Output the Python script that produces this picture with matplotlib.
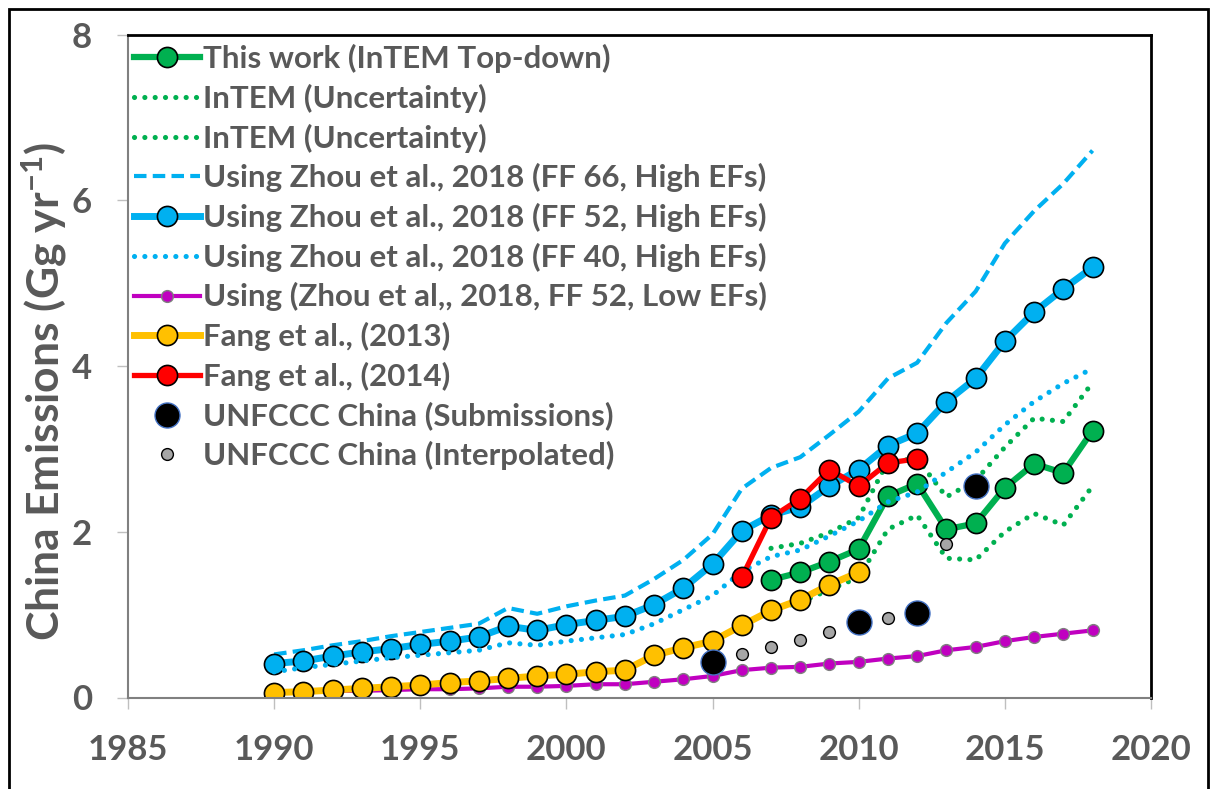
import matplotlib
matplotlib.use("Agg")
import matplotlib.pyplot as plt
from matplotlib.patches import Rectangle

# ── Data (Gg/yr) ─────────────────────────────────────────────────────────
years = list(range(1990, 2019))

zhou_ff66_high = [0.52, 0.57, 0.63, 0.68, 0.74, 0.79, 0.84, 0.89, 1.08, 1.01,
                  1.10, 1.17, 1.23, 1.43, 1.66, 1.97, 2.52, 2.77, 2.90, 3.17,
                  3.45, 3.85, 4.04, 4.52, 4.90, 5.48, 5.87, 6.20, 6.60]
zhou_ff52_high = [0.41, 0.44, 0.50, 0.55, 0.59, 0.64, 0.68, 0.73, 0.86, 0.81,
                  0.88, 0.93, 0.98, 1.12, 1.32, 1.61, 2.01, 2.20, 2.30, 2.55,
                  2.75, 3.04, 3.19, 3.57, 3.85, 4.30, 4.65, 4.93, 5.19]
zhou_ff40_high = [0.31, 0.36, 0.40, 0.44, 0.48, 0.51, 0.54, 0.57, 0.66, 0.63,
                  0.68, 0.72, 0.76, 0.89, 1.06, 1.23, 1.52, 1.70, 1.78, 1.95,
                  2.13, 2.36, 2.48, 2.72, 2.96, 3.29, 3.57, 3.79, 3.97]
zhou_ff52_low = [0.06, 0.07, 0.08, 0.08, 0.09, 0.10, 0.10, 0.11, 0.13, 0.13,
                 0.14, 0.16, 0.16, 0.19, 0.22, 0.26, 0.33, 0.36, 0.37, 0.41,
                 0.43, 0.47, 0.50, 0.57, 0.61, 0.68, 0.73, 0.77, 0.81]

fang13_years = list(range(1990, 2011))
fang13 = [0.06, 0.07, 0.09, 0.11, 0.13, 0.15, 0.18, 0.20, 0.23, 0.26,
          0.28, 0.31, 0.33, 0.51, 0.60, 0.68, 0.87, 1.05, 1.18, 1.36, 1.51]

fang14_years = list(range(2006, 2013))
fang14 = [1.45, 2.17, 2.40, 2.75, 2.55, 2.83, 2.88]

intem_years = list(range(2007, 2019))
intem = [1.42, 1.51, 1.64, 1.79, 2.43, 2.58, 2.03, 2.10, 2.53, 2.82, 2.71, 3.22]
intem_hi = [1.80, 1.86, 1.99, 2.17, 2.85, 2.88, 2.42, 2.62, 3.02, 3.37, 3.33, 3.80]
intem_lo = [1.05, 1.15, 1.30, 1.45, 2.03, 2.20, 1.68, 1.66, 2.00, 2.22, 2.08, 2.55]

unfccc_years = [2005, 2010, 2012, 2014]
unfccc = [0.43, 0.91, 1.02, 2.55]
unfccc_interp_years = [2006, 2007, 2008, 2009, 2011, 2013]
unfccc_interp = [0.53, 0.61, 0.69, 0.79, 0.96, 1.85]

# ── Style ────────────────────────────────────────────────────────────────
GREEN  = "#00b050"
BLUE   = "#00b0f0"
PURPLE = "#c000c0"
ORANGE = "#ffc000"
RED    = "#ff0000"
TEXT   = "#595959"

FONT = "Lato"
plt.rcParams["font.family"] = [FONT, "DejaVu Sans"]
plt.rcParams["font.weight"] = "bold"
plt.rcParams["mathtext.fontset"] = "custom"
plt.rcParams["mathtext.rm"] = f"{FONT}:bold"
plt.rcParams["mathtext.it"] = f"{FONT}:bold"
plt.rcParams["mathtext.bf"] = f"{FONT}:bold"

DOT = (0, (0.01, 2.0))
DASH = (0, (3.0, 1.5))

fig = plt.figure(figsize=(12.11, 7.89), dpi=100)
ax = fig.add_axes([128 / 1211, 1 - 697.5 / 789, 1023 / 1211, 663 / 789])

ax.plot(intem_years, intem, color=GREEN, lw=4.5, marker="o", ms=14.5,
        mfc=GREEN, mec="black", mew=1.2, label="This work (InTEM Top-down)")
ax.plot(intem_years, intem_hi, color=GREEN, lw=3.7, ls=DOT,
        dash_capstyle="round", label="InTEM (Uncertainty)")
ax.plot(intem_years, intem_lo, color=GREEN, lw=3.7, ls=DOT,
        dash_capstyle="round", label="InTEM (Uncertainty)")
ax.plot(years, zhou_ff66_high, color=BLUE, lw=3.0, ls=DASH,
        label="Using Zhou et al., 2018 (FF 66, High EFs)")
ax.plot(years, zhou_ff52_high, color=BLUE, lw=5.0, marker="o", ms=14.5,
        mfc=BLUE, mec="black", mew=1.2,
        label="Using Zhou et al., 2018 (FF 52, High EFs)")
ax.plot(years, zhou_ff40_high, color=BLUE, lw=3.7, ls=DOT,
        dash_capstyle="round", label="Using Zhou et al., 2018 (FF 40, High EFs)")
ax.plot(years, zhou_ff52_low, color=PURPLE, lw=3.0, marker="o", ms=8.5,
        mfc=PURPLE, mec="#7f7f7f", mew=1.0,
        label="Using (Zhou et al,, 2018, FF 52, Low EFs)")
ax.plot(fang13_years, fang13, color=ORANGE, lw=5.0, marker="o", ms=14.5,
        mfc=ORANGE, mec="black", mew=1.2, label="Fang et al., (2013)")
ax.plot(fang14_years, fang14, color=RED, lw=3.8, marker="o", ms=14.5,
        mfc=RED, mec="black", mew=1.2, label="Fang et al., (2014)")
ax.plot(unfccc_years, unfccc, ls="none", marker="o", ms=18,
        mfc="black", mec="#4472c4", mew=1.0,
        label="UNFCCC China (Submissions)")
ax.plot(unfccc_interp_years, unfccc_interp, ls="none", marker="o", ms=8.5,
        mfc="#a6a6a6", mec="black", mew=1.0,
        label="UNFCCC China (Interpolated)")

ax.set_xlim(1985, 2020)
ax.set_ylim(0, 8)
ax.set_xticks(range(1985, 2021, 5))
ax.set_yticks(range(0, 9, 2))

for side in ("top", "right"):
    ax.spines[side].set_color("black")
    ax.spines[side].set_linewidth(2.0)
for side in ("left", "bottom"):
    ax.spines[side].set_color("#808080")
    ax.spines[side].set_linewidth(1.5)

ax.tick_params(axis="both", direction="out", length=8, width=1.0,
               color="#bfbfbf", labelcolor=TEXT, labelsize=25, pad=18)

fig.text(44 / 1211, 1 - 391 / 789, r"China Emissions (Gg yr$^{-1}$)",
         rotation=90, ha="center", va="center", fontsize=32, color=TEXT,
         fontweight="bold")

leg = ax.legend(loc="upper left", bbox_to_anchor=(0.0, 0.995), frameon=False,
                fontsize=22.5, handlelength=2.1, handletextpad=0.1,
                labelspacing=0.34, borderpad=0.2, borderaxespad=0.0,
                numpoints=1)
for txt in leg.get_texts():
    txt.set_color(TEXT)

# outer frame around the whole chart
fig.patches.append(Rectangle((9 / 1211, -0.02), 1199 / 1211, 1.02 - 9 / 789,
                             transform=fig.transFigure, fill=False,
                             edgecolor="black", lw=2.0))

fig.savefig("out.png", dpi=100)
